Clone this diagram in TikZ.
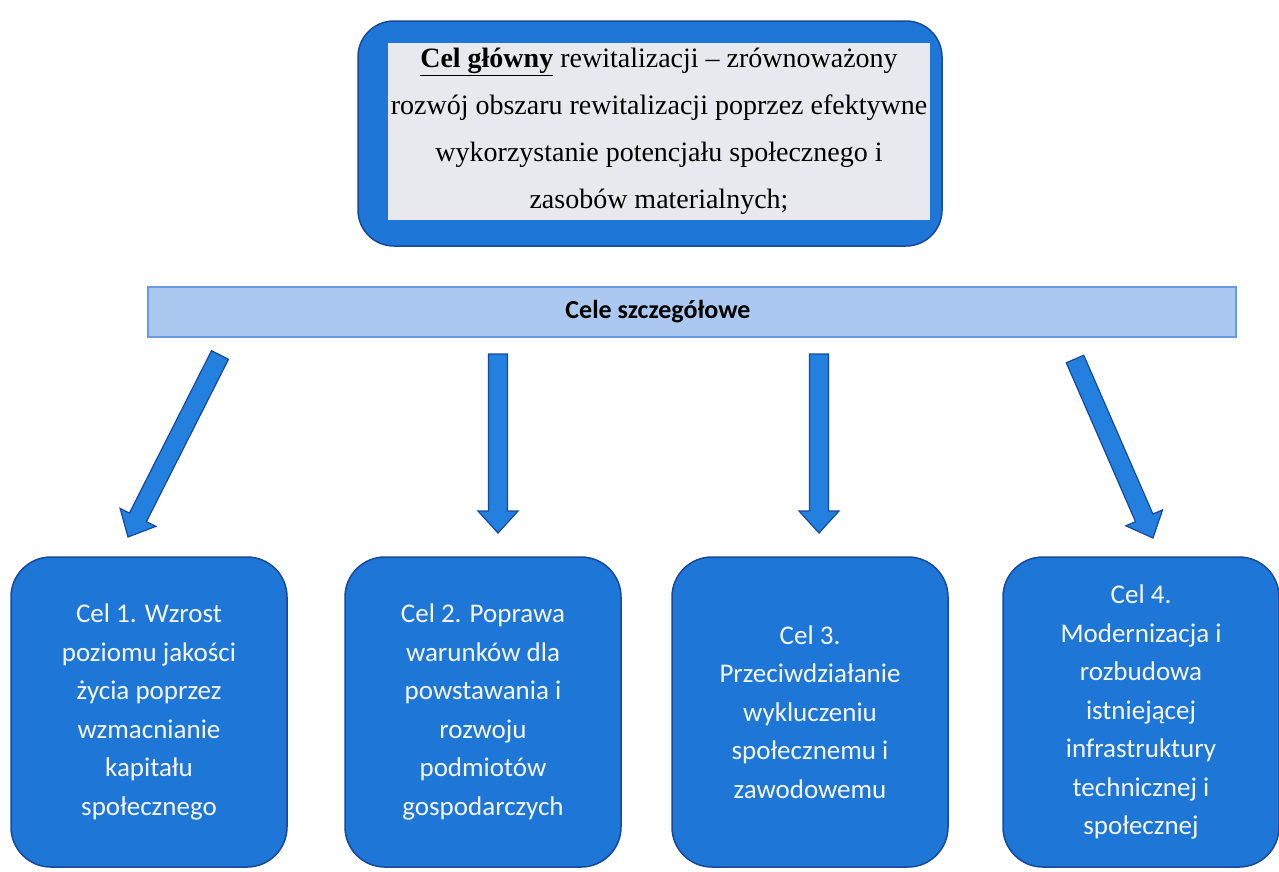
\documentclass[tikz,border=0pt]{standalone}
\usepackage{fontspec}
\setmainfont{Liberation Serif}
\newfontfamily\calib{Carlito}
\usetikzlibrary{calc}
\definecolor{boxblue}{RGB}{30,118,214}
\definecolor{boxedge}{RGB}{22,72,158}
\definecolor{innergray}{RGB}{232,232,239}
\definecolor{barfill}{RGB}{170,200,240}
\definecolor{baredge}{RGB}{105,155,225}
\definecolor{arrowfill}{RGB}{36,128,222}
\definecolor{arrowedge}{RGB}{22,72,160}
\definecolor{txtwhite}{RGB}{246,246,250}
\newcommand\blockarrow[2]{%
  \pgfpointdiff{\pgfpointanchor{#1}{center}}{\pgfpointanchor{#2}{center}}%
  \pgfgetlastxy{\badx}{\bady}%
  \pgfmathsetmacro\baang{atan2(\bady,\badx)}%
  \pgfmathsetmacro\balen{veclen(\badx,\bady)}%
  \draw[blockarr, shift={(#1)}, rotate=\baang]
    (0,-9.5) -- ({\balen-22},-9.5) -- ({\balen-22},-20) -- (\balen,0)
    -- ({\balen-22},20) -- ({\balen-22},9.5) -- (0,9.5) -- cycle;}
\begin{document}
\begin{tikzpicture}[x=1pt,y=-1pt,
  mainouter/.style={draw=boxedge, line width=1.5pt, fill=boxblue, rounded corners=36pt,
    minimum width=584pt, minimum height=225pt, inner sep=0pt},
  maininner/.style={fill=innergray, minimum width=542pt, minimum height=177pt, inner sep=0pt,
    align=center, font=\fontsize{28}{47}\selectfont},
  barbox/.style={draw=baredge, line width=1.5pt, fill=barfill, minimum width=1088pt,
    minimum height=50pt, inner sep=0pt},
  bartext/.style={font=\calib\bfseries\fontsize{26}{30}\selectfont, text=black},
  goalbox/.style={draw=boxedge, line width=1.5pt, fill=boxblue, rounded corners=40pt,
    minimum width=276pt, minimum height=310pt, inner sep=0pt, text=txtwhite,
    align=center, font=\calib\fontsize{27}{38.5}\selectfont},
  blockarr/.style={draw=arrowedge, line width=1.2pt, fill=arrowfill, line join=miter}
]
\useasboundingbox (0,0) rectangle (1279,871);
\fill[white] (0,0) rectangle (1279,871);

% main goal
\node[mainouter] (main) at (650,133.5) {};
\node[maininner] (maintext) at (659,131.5)
  {\textbf{\underline{Cel główny}} rewitalizacji – zrównoważony\\
   rozwój obszaru rewitalizacji poprzez efektywne\\
   wykorzystanie potencjału społecznego i\\
   zasobów materialnych;};

% bar
\node[barbox] (bar) at (692,312) {};
\node[bartext] (bartitle) at (658,312) {Cele szczegółowe};

% goal boxes
\node[goalbox] (g1) at (149,712) {Cel 1. Wzrost\\ poziomu jakości\\ życia poprzez\\ wzmacnianie\\ kapitału\\ społecznego};
\node[goalbox] (g2) at (483,712) {Cel 2. Poprawa\\ warunków dla\\ powstawania i\\ rozwoju\\ podmiotów\\ gospodarczych};
\node[goalbox] (g3) at (810,712) {Cel 3.\\ Przeciwdziałanie\\ wykluczeniu\\ społecznemu i\\ zawodowemu};
\node[goalbox] (g4) at (1141,712) {Cel 4.\\ Modernizacja i\\ rozbudowa\\ istniejącej\\ infrastruktury\\ technicznej i\\ społecznej};

% arrow ends
\coordinate (a1s) at (220,355);
\coordinate (a1e) at (128,537);
\coordinate (a2s) at (498,354);
\coordinate (a2e) at (498,533);
\coordinate (a3s) at (819,354);
\coordinate (a3e) at (819,533);
\coordinate (a4s) at (1075,359);
\coordinate (a4e) at (1153,538);

\blockarrow{a1s}{a1e}
\blockarrow{a2s}{a2e}
\blockarrow{a3s}{a3e}
\blockarrow{a4s}{a4e}
\end{tikzpicture}
\end{document}
